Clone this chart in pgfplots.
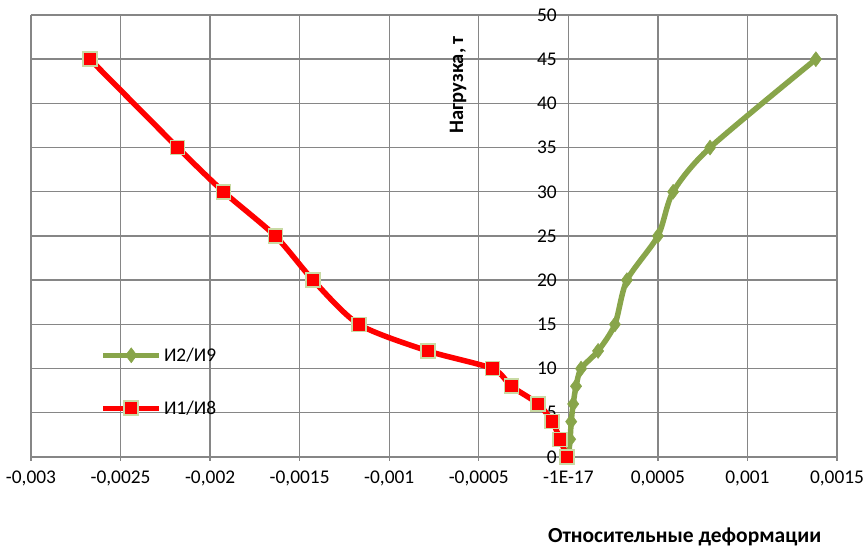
\documentclass[border=0pt]{standalone}
\usepackage{pgfplots}
\pgfplotsset{compat=1.18}
\usepackage{fontspec}
\setmainfont{Carlito}
\definecolor{gridgray}{HTML}{868686}
\definecolor{olive}{HTML}{88A54A}
\definecolor{paleedge}{HTML}{C9DAA4}
\begin{document}
\begin{tikzpicture}[x=1pt,y=1pt]
\begin{axis}[
  scale only axis, width=806pt, height=442pt,
  xmin=-0.003, xmax=0.0015, ymin=0, ymax=50,
  enlargelimits=false, clip=false,
  axis lines=middle,
  axis line style={-, draw=gridgray, line width=1.4pt},
  grid=major,
  major grid style={draw=gridgray, line width=1.4pt},
  hide obscured x ticks=false, hide obscured y ticks=false,
  scaled x ticks=false,
  xtick={-0.003,-0.0025,-0.002,-0.0015,-0.001,-0.0005,0,0.0005,0.001,0.0015},
  xticklabels={{-0,003},{-0,0025},{-0,002},{-0,0015},{-0,001},{-0,0005},{-1E-17},{0,0005},{0,001},{0,0015}},
  ytick={0,5,...,50},
  tick align=center, major tick length=8pt,
  tick style={draw=gridgray, line width=1.4pt},
  /pgf/number format/assume math mode=true,
  ticklabel style={font=\fontsize{19.4}{22}\selectfont},
  xticklabel style={yshift=-6pt},
  yticklabel style={xshift=-4pt},
  xlabel={Относительные деформации},
  ylabel={Нагрузка, т},
  xlabel style={font=\bfseries\fontsize{21.5}{24}\selectfont, at={(axis description cs:0.811,-0.18)}, anchor=center},
  ylabel style={font=\bfseries\fontsize{20.5}{24}\selectfont, at={(axis description cs:0.53,0.842)}, anchor=center, rotate=90},
  legend cell align=left,
  legend style={draw=none, fill=none, at={(axis description cs:0.086,0.252)}, anchor=north west,
    row sep=34pt, font=\fontsize{19.4}{22}\selectfont, inner sep=0pt},
  legend image code/.code={\draw[mark repeat=2,mark phase=2] plot coordinates {(0pt,0pt) (28pt,0pt) (56pt,0pt)};},
]
\addplot[color=olive, line width=5.5pt, smooth, tension=0.45,
  mark=diamond*, mark size=7.5pt, mark options={fill=olive, draw=olive, line width=0.5pt}]
  coordinates {
  (0,0) (0.00001,2) (0.000016,4) (0.000027,6) (0.000043,8) (0.000071,10)
  (0.000166,12) (0.00026,15) (0.000327,20) (0.0005,25) (0.000585,30)
  (0.000791,35) (0.001382,45)
  };
\addlegendentry{И2/И9}
\addplot[color=red, line width=5.5pt, smooth, tension=0.45,
  mark=square*, mark size=7pt, mark options={fill=red, draw=paleedge, line width=1.6pt}]
  coordinates {
  (-0.002671,45) (-0.002181,35) (-0.001925,30) (-0.001636,25) (-0.001425,20)
  (-0.001169,15) (-0.000785,12) (-0.000424,10) (-0.000318,8) (-0.000168,6)
  (-0.00009,4) (-0.000046,2) (-0.000007,0)
  };
\addlegendentry{И1/И8}
\coordinate (ll) at (rel axis cs:0,0);
\coordinate (ur) at (rel axis cs:1,1);
\end{axis}
\pgfresetboundingbox
\path[use as bounding box] ([shift={(-31pt,-90pt)}]ll) rectangle ([shift={(27pt,15pt)}]ur);
\end{tikzpicture}
\end{document}
